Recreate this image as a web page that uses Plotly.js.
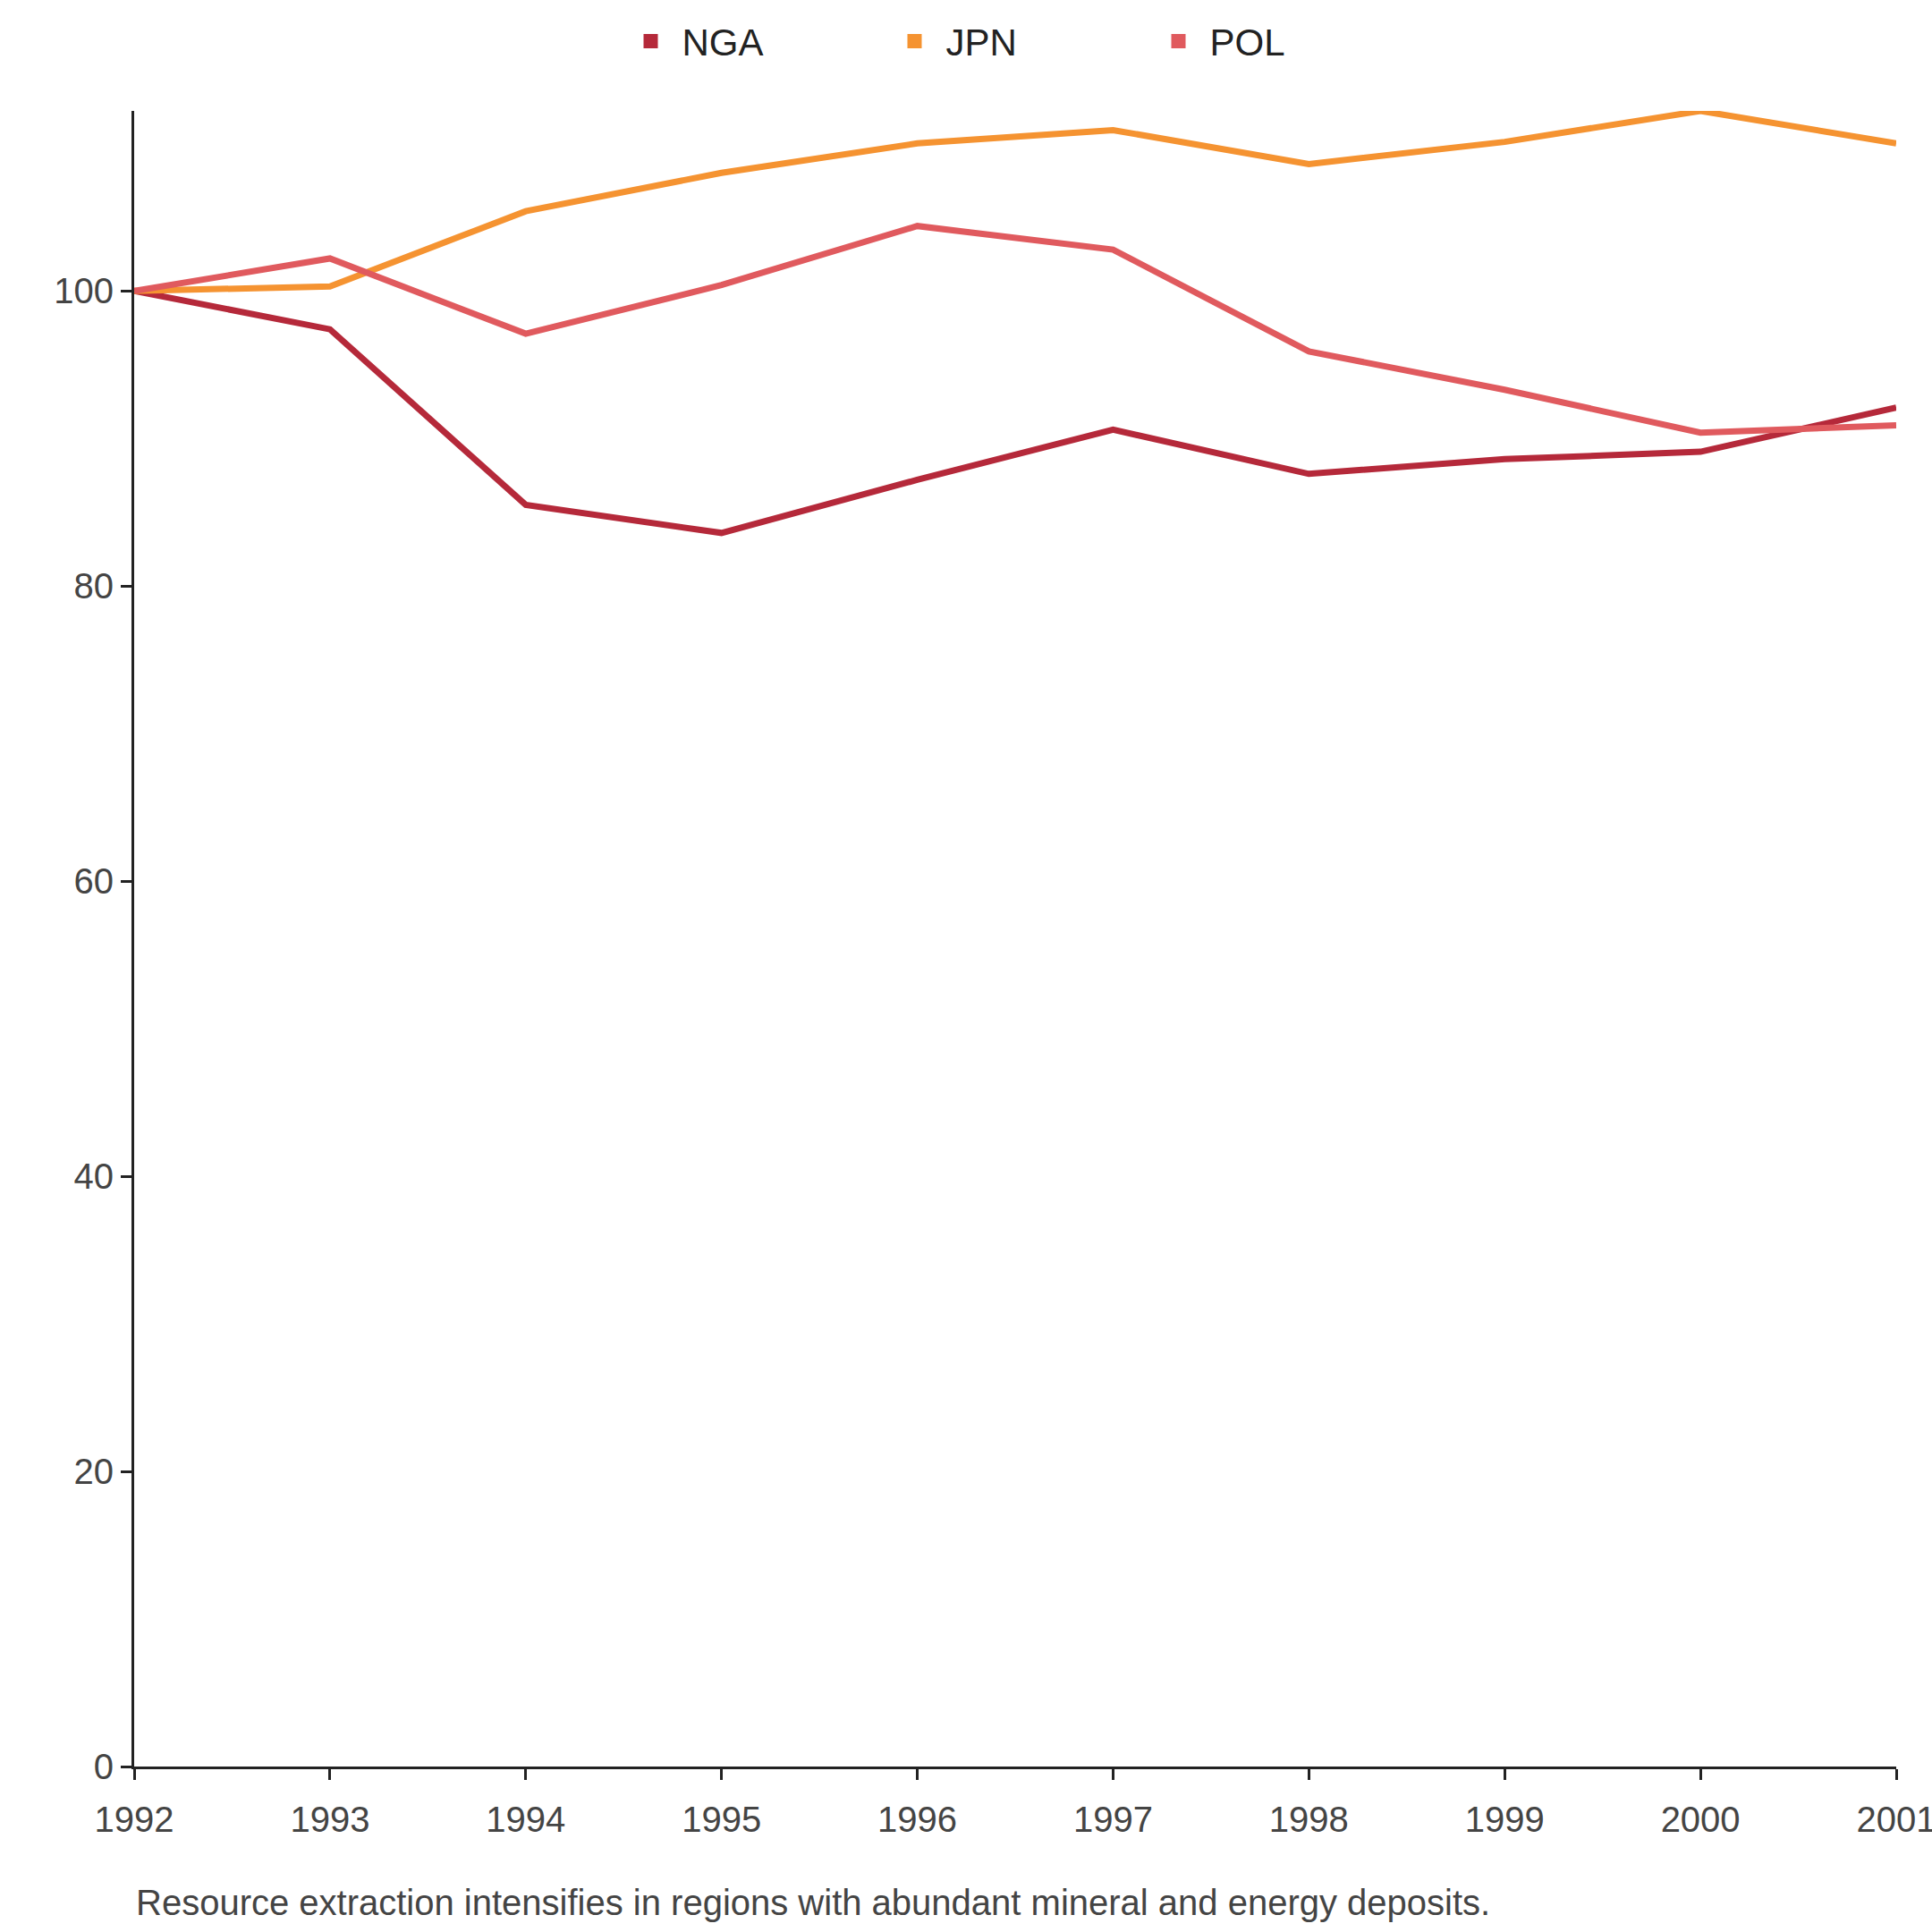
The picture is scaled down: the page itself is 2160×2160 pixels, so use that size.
<!DOCTYPE html>
<html>
<head>
<meta charset="utf-8">
<script src="https://cdn.plot.ly/plotly-3.0.1.min.js"></script>
<style>body{margin:0;background:#fff}#chart{width:2160px;height:2160px}</style>
</head>
<body>
<div id="chart"></div>
<script>
// valeurs (indice, 1992 = 100)
const years = [1992, 1993, 1994, 1995, 1996, 1997, 1998, 1999, 2000, 2001];
const nga = [100, 97.4, 85.5, 83.6, 87.2, 90.6, 87.6, 88.6, 89.1, 92.1];
const jpn = [100, 100.3, 105.4, 108.0, 110.0, 110.9, 108.6, 110.1, 112.2, 110.0];
const pol = [100, 102.2, 97.1, 100.4, 104.4, 102.8, 95.9, 93.3, 90.4, 90.9];
const caption = 'Resource extraction intensifies in regions with abundant mineral and energy deposits.';

const series = [['NGA', nga, '#b5293a'], ['JPN', jpn, '#f59331'], ['POL', pol, '#e05a5e']];

const data = [];
series.forEach(([name, y, color]) => {
    data.push({x: years, y: y, name: name, mode: 'lines', line: {color: color, width: 7}, showlegend: false});
});
// entrées de légende carrées
series.forEach(([name, y, color]) => {
    data.push({x: [null], y: [null], name: name, mode: 'markers',
               marker: {symbol: 'square', size: 30, color: color}});
});

const axe = {
    showgrid: false, zeroline: false, showline: true,
    linecolor: '#222', linewidth: 3,
    ticks: 'outside', ticklen: 12, tickwidth: 3, tickcolor: '#222',
    tickfont: {size: 40, color: '#444', family: 'Liberation Sans, Arial'},
};

const layout = {
    width: 2160, height: 2160,
    paper_bgcolor: '#fff', plot_bgcolor: '#fff',
    margin: {l: 150, r: 40, t: 60, b: 185},
    font: {family: 'Liberation Sans, Arial', color: '#222'},
    showlegend: true,
    legend: {orientation: 'h', x: 0.5, xanchor: 'center', y: 1.042, yanchor: 'middle',
             font: {size: 42, color: '#222'}, entrywidth: 220, itemwidth: 60},
    xaxis: Object.assign({}, axe, {range: [1992, 2001], tickvals: years, ticklabelstandoff: 10,
                                   ticklabeloverflow: 'allow', automargin: false}),
    yaxis: Object.assign({}, axe, {range: [0, 112.2], tickvals: [0, 20, 40, 60, 80, 100], automargin: false}),
    annotations: [{
        text: caption, xref: 'paper', yref: 'paper', x: 0, y: -0.082,
        xanchor: 'left', yanchor: 'middle', showarrow: false,
        font: {size: 40, color: '#444'},
    }],
};

Plotly.newPlot('chart', data, layout, {displayModeBar: false});
</script>
</body>
</html>
